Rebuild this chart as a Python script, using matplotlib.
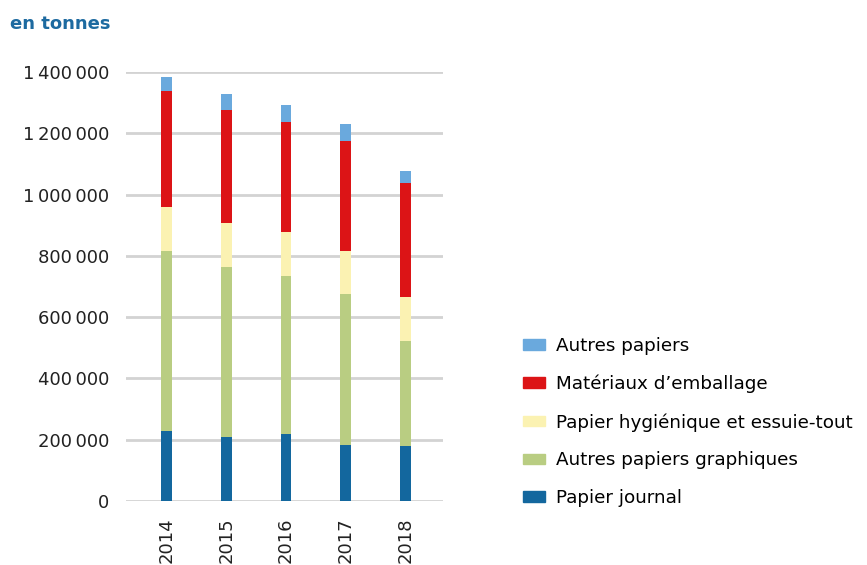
import matplotlib
matplotlib.use("Agg")
import matplotlib.pyplot as plt
from matplotlib.ticker import FuncFormatter
from matplotlib.patches import Patch

years = ["2014", "2015", "2016", "2017", "2018"]
papier_journal = [229000, 209000, 218000, 182000, 180000]
autres_graphiques = [588000, 555000, 517000, 493000, 342000]
hygienique = [143000, 142000, 143000, 140000, 145000]
emballage = [379000, 371000, 359000, 360000, 370000]
autres_papiers = [44000, 52000, 54000, 54000, 39000]

series = [
    ("Papier journal", papier_journal, "#13679e"),
    ("Autres papiers graphiques", autres_graphiques, "#b9cd82"),
    ("Papier hygiénique et essuie-tout", hygienique, "#fbf2b2"),
    ("Matériaux d\u2019emballage", emballage, "#dc1416"),
    ("Autres papiers", autres_papiers, "#6aa9dd"),
]

plt.rcParams['font.family'] = ['DejaVu Sans']
fig = plt.figure(figsize=(8.67, 5.65), dpi=100)
ax = fig.add_axes([126/867, 1-501/565, (443-126)/867, (501-72)/565])

x = list(range(len(years)))
bottom = [0]*len(years)
for name, vals, col in series:
    ax.bar(x, vals, width=0.18, bottom=bottom, color=col, zorder=3)
    bottom = [b+v for b, v in zip(bottom, vals)]

ax.set_ylim(0, 1400000)
ax.set_xlim(-0.68, 4.63)
ax.set_yticks(range(0, 1400001, 200000))
ax.yaxis.set_major_formatter(FuncFormatter(lambda v, p: f"{int(v):,}".replace(",", "\u2009")))
ax.yaxis.grid(True, color="#d3d3d3", linewidth=2, zorder=0)
ax.set_axisbelow(True)
for s in ax.spines.values():
    s.set_visible(False)
ax.tick_params(axis='y', length=0, pad=12, labelsize=13, labelcolor="#222222")
ax.set_xticks(x)
ax.set_xticklabels(years, rotation=90, fontsize=13, color="#222222")
ax.tick_params(axis='x', length=0, pad=12)

fig.text(10/867, 1-24/565, "en tonnes", color="#1d6aa0", fontsize=13, fontweight="bold", va="center")

handles = [Patch(color=c, label=n) for n, v, c in reversed(series)]
fig.legend(handles=handles, loc="center left", bbox_to_anchor=(506/867, 1-422/565),
           frameon=False, fontsize=13.2, handlelength=1.25, handleheight=0.5,
           labelspacing=1.08, handletextpad=0.6)

fig.savefig("out.png", dpi=100)
